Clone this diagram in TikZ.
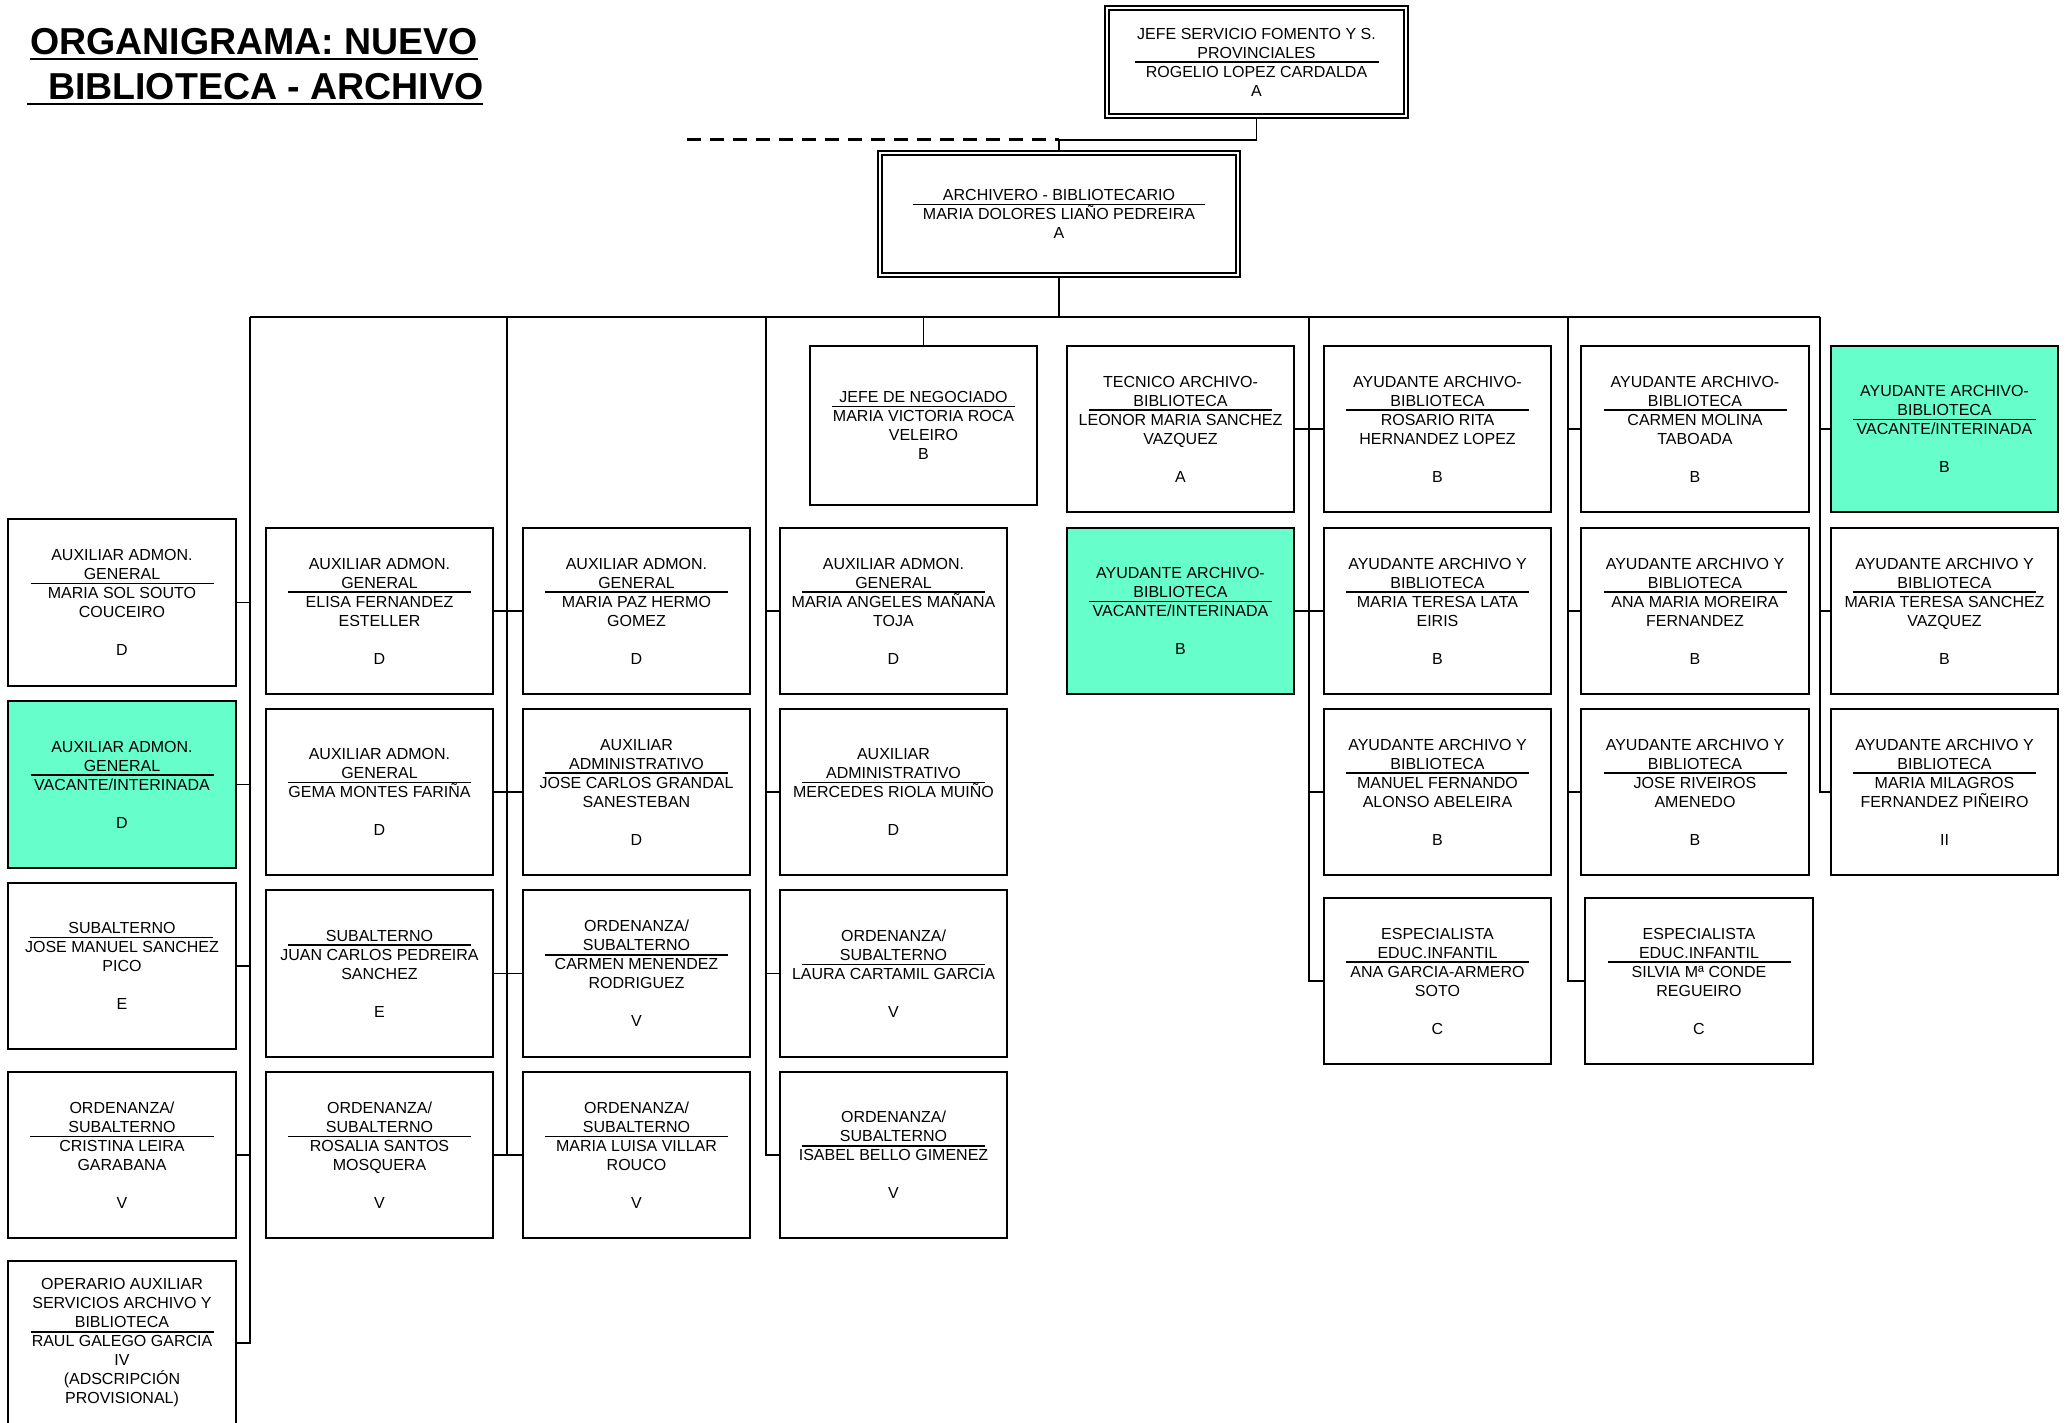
\documentclass[tikz,border=0pt]{standalone}
\usepackage{fontspec}
\setmainfont{Liberation Sans}
\definecolor{vacfill}{RGB}{102,255,204}
\newsavebox\rubox
\newsavebox\ulbox
% title line with a centred rule just below it
\newcommand\ru[2][183]{\sbox\rubox{#2}\hbox to \wd\rubox{\hss\hbox to 0pt{\hss\raisebox{0pt}[0pt][0pt]{\rule[-4.8pt]{#1pt}{1.6pt}}\hss}\hss}\kern-\wd\rubox\usebox\rubox}
% heavy underline for the heading
\newcommand\ul[1]{\sbox\ulbox{#1}\rlap{\rule[-5.4pt]{\wd\ulbox}{2.8pt}}\usebox\ulbox}
% box: name, x1, y1, x2, y2, extra style, text
\newcommand\bx[7]{\node[posbox,#6,minimum width={(#4-#2)*1pt},minimum height={(#5-#3)*1pt}] (#1) at ({(#2+#4)/2},{(#3+#5)/2}) {#7};}
\begin{document}
\begin{tikzpicture}[x=1pt,y=-1pt,
  posbox/.style={draw,line width=1.8pt,fill=white,inner sep=0pt,align=center,font=\fontsize{16}{19}\selectfont},
  vacant/.style={fill=vacfill},
  topbox/.style={double,double distance=2.6pt,line width=1.7pt,outer sep=3pt},
  conn/.style={line width=1.8pt},
  busline/.style={line width=2.8pt},
  dashedline/.style={line width=3pt,dash pattern=on 13.5pt off 9.5pt},
  heading/.style={anchor=base west,inner sep=0pt,font=\bfseries\fontsize{37.5}{40}\selectfont}]
\path[use as bounding box,fill=white] (0,0) rectangle (2067,1423);

% heading
\node[heading] (t1) at (30,55) {\ul{ORGANIGRAMA: NUEVO}};
\node[heading] (t2) at (27,100) {\ul{\ \ BIBLIOTECA - ARCHIVO}};

% top boxes
\bx{jefe}{1107}{8}{1406}{116}{topbox}{JEFE SERVICIO FOMENTO Y S.\\\ru[244]{PROVINCIALES}\\ROGELIO LOPEZ CARDALDA\\A}
\bx{arch}{880}{153}{1238}{275}{topbox}{\ru[292]{ARCHIVERO - BIBLIOTECARIO}\\MARIA DOLORES LIAÑO PEDREIRA\\A}

% column 1
\bx{c1r1}{8}{519}{236}{686}{}{AUXILIAR ADMON.\\\ru{GENERAL}\\MARIA SOL SOUTO\\COUCEIRO\\[19pt]D}
\bx{c1r2}{8}{701}{236}{868}{vacant}{AUXILIAR ADMON.\\\ru{GENERAL}\\VACANTE/INTERINADA\\[19pt]D}
\bx{c1r3}{8}{883}{236}{1049}{}{\ru{SUBALTERNO}\\JOSE MANUEL SANCHEZ\\PICO\\[19pt]E}
\bx{c1r4}{8}{1072}{236}{1238}{}{ORDENANZA/\\\ru{SUBALTERNO}\\CRISTINA LEIRA\\GARABANA\\[19pt]V}
\bx{c1r5}{8}{1261}{236}{1425}{}{OPERARIO AUXILIAR\\SERVICIOS ARCHIVO Y\\\ru{BIBLIOTECA}\\RAUL GALEGO GARCIA\\IV\\(ADSCRIPCIÓN\\PROVISIONAL)}

% column 2
\bx{c2r1}{266}{528}{493}{694}{}{AUXILIAR ADMON.\\\ru{GENERAL}\\ELISA FERNANDEZ\\ESTELLER\\[19pt]D}
\bx{c2r2}{266}{709}{493}{875}{}{AUXILIAR ADMON.\\\ru{GENERAL}\\GEMA MONTES FARIÑA\\[19pt]D}
\bx{c2r3}{266}{890}{493}{1057}{}{\ru{SUBALTERNO}\\JUAN CARLOS PEDREIRA\\SANCHEZ\\[19pt]E}
\bx{c2r4}{266}{1072}{493}{1238}{}{ORDENANZA/\\\ru{SUBALTERNO}\\ROSALIA SANTOS\\MOSQUERA\\[19pt]V}

% column 3
\bx{c3r1}{523}{528}{750}{694}{}{AUXILIAR ADMON.\\\ru{GENERAL}\\MARIA PAZ HERMO\\GOMEZ\\[19pt]D}
\bx{c3r2}{523}{709}{750}{875}{}{AUXILIAR\\\ru{ADMINISTRATIVO}\\JOSE CARLOS GRANDAL\\SANESTEBAN\\[19pt]D}
\bx{c3r3}{523}{890}{750}{1057}{}{ORDENANZA/\\\ru{SUBALTERNO}\\CARMEN MENENDEZ\\RODRIGUEZ\\[19pt]V}
\bx{c3r4}{523}{1072}{750}{1238}{}{ORDENANZA/\\\ru{SUBALTERNO}\\MARIA LUISA VILLAR\\ROUCO\\[19pt]V}

% column 4
\bx{negoc}{810}{346}{1037}{505}{}{\ru{JEFE DE NEGOCIADO}\\MARIA VICTORIA ROCA\\VELEIRO\\B}
\bx{c4r1}{780}{528}{1007}{694}{}{AUXILIAR ADMON.\\\ru{GENERAL}\\MARIA ANGELES MAÑANA\\TOJA\\[19pt]D}
\bx{c4r2}{780}{709}{1007}{875}{}{AUXILIAR\\\ru{ADMINISTRATIVO}\\MERCEDES RIOLA MUIÑO\\[19pt]D}
\bx{c4r3}{780}{890}{1007}{1057}{}{ORDENANZA/\\\ru{SUBALTERNO}\\LAURA CARTAMIL GARCIA\\[19pt]V}
\bx{c4r4}{780}{1072}{1007}{1238}{}{ORDENANZA/\\\ru{SUBALTERNO}\\ISABEL BELLO GIMENEZ\\[19pt]V}

% column 5
\bx{c5r1}{1067}{346}{1294}{512}{}{TECNICO ARCHIVO-\\\ru{BIBLIOTECA}\\LEONOR MARIA SANCHEZ\\VAZQUEZ\\[19pt]A}
\bx{c5r2}{1067}{528}{1294}{694}{vacant}{AYUDANTE ARCHIVO-\\\ru{BIBLIOTECA}\\VACANTE/INTERINADA\\[19pt]B}

% column 6
\bx{c6r1}{1324}{346}{1551}{512}{}{AYUDANTE ARCHIVO-\\\ru{BIBLIOTECA}\\ROSARIO RITA\\HERNANDEZ LOPEZ\\[19pt]B}
\bx{c6r2}{1324}{528}{1551}{694}{}{AYUDANTE ARCHIVO Y\\\ru{BIBLIOTECA}\\MARIA TERESA LATA\\EIRIS\\[19pt]B}
\bx{c6r3}{1324}{709}{1551}{875}{}{AYUDANTE ARCHIVO Y\\\ru{BIBLIOTECA}\\MANUEL FERNANDO\\ALONSO ABELEIRA\\[19pt]B}
\bx{c6r4}{1324}{898}{1551}{1064}{}{ESPECIALISTA\\\ru{EDUC.INFANTIL}\\ANA GARCIA-ARMERO\\SOTO\\[19pt]C}

% column 7
\bx{c7r1}{1581}{346}{1809}{512}{}{AYUDANTE ARCHIVO-\\\ru{BIBLIOTECA}\\CARMEN MOLINA\\TABOADA\\[19pt]B}
\bx{c7r2}{1581}{528}{1809}{694}{}{AYUDANTE ARCHIVO Y\\\ru{BIBLIOTECA}\\ANA MARIA MOREIRA\\FERNANDEZ\\[19pt]B}
\bx{c7r3}{1581}{709}{1809}{875}{}{AYUDANTE ARCHIVO Y\\\ru{BIBLIOTECA}\\JOSE RIVEIROS\\AMENEDO\\[19pt]B}
\bx{c7r4}{1585}{898}{1813}{1064}{}{ESPECIALISTA\\\ru{EDUC.INFANTIL}\\SILVIA Mª CONDE\\REGUEIRO\\[19pt]C}

% column 8
\bx{c8r1}{1831}{346}{2058}{512}{vacant}{AYUDANTE ARCHIVO-\\\ru{BIBLIOTECA}\\VACANTE/INTERINADA\\[19pt]B}
\bx{c8r2}{1831}{528}{2058}{694}{}{AYUDANTE ARCHIVO Y\\\ru{BIBLIOTECA}\\MARIA TERESA SANCHEZ\\VAZQUEZ\\[19pt]B}
\bx{c8r3}{1831}{709}{2058}{875}{}{AYUDANTE ARCHIVO Y\\\ru{BIBLIOTECA}\\MARIA MILAGROS\\FERNANDEZ PIÑEIRO\\[19pt]II}

% connector points
\coordinate (J) at (1059,140);
\coordinate (D) at (687,140);
\coordinate (L1) at (250,317);
\coordinate (L2) at (507,317);
\coordinate (L3) at (766,317);
\coordinate (L4) at (1309,317);
\coordinate (L5) at (1568,317);
\coordinate (L6) at (1820,317);

% top connectors
\draw[conn] (jefe.south) |- (J) -- (arch.north);
\draw[dashedline] (D) -- (J);
\draw[conn] (arch.south) -- (arch.south |- L1);
\draw[busline] (L1) -- (L6);
\draw[conn] (negoc.north) -- (negoc.north |- L1);

% column 1
\draw[conn] (L1) |- (c1r5.east);
\foreach \r in {1,2,3,4} {\draw[conn] (c1r\r.east) -- (c1r\r.east -| L1);}
% columns 2 and 3
\draw[conn] (L2) |- (c2r4.east);
\foreach \r in {1,2,3,4} {\draw[conn] (c2r\r.east) -- (c3r\r.west);}
% column 4
\draw[conn] (L3) |- (c4r4.west);
\foreach \r in {1,2,3} {\draw[conn] (c4r\r.west) -- (c4r\r.west -| L3);}
% columns 5 and 6
\draw[conn] (L4) |- (c6r4.west);
\foreach \r in {1,2} {\draw[conn] (c5r\r.east) -- (c6r\r.west);}
\draw[conn] (c6r3.west) -- (c6r3.west -| L4);
% column 7
\draw[conn] (L5) |- (c7r4.west);
\foreach \r in {1,2,3} {\draw[conn] (c7r\r.west) -- (c7r\r.west -| L5);}
% column 8
\draw[conn] (L6) |- (c8r3.west);
\foreach \r in {1,2} {\draw[conn] (c8r\r.west) -- (c8r\r.west -| L6);}
\end{tikzpicture}
\end{document}
